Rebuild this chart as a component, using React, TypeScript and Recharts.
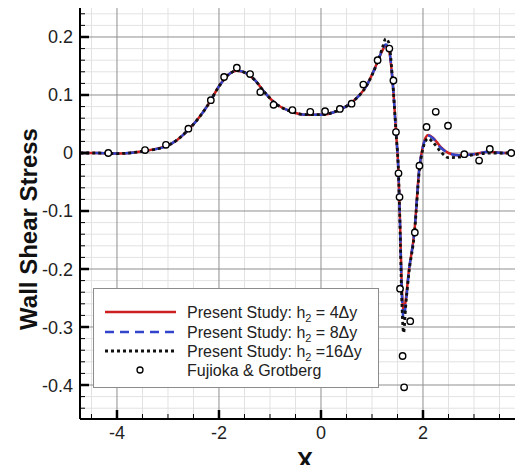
import React from 'react';
import {
  ComposedChart,
  Line,
  Scatter,
  XAxis,
  YAxis,
  ReferenceLine,
} from 'recharts';

const FONT = '"Liberation Sans", Arial, Helvetica, sans-serif';

// x positions of the computed curves
const XS = [
  -4.72, -4.4, -4.0, -3.5, -3.0, -2.6, -2.2, -2.0, -1.8, -1.65, -1.5, -1.3, -1.1, -0.9, -0.6,
  -0.3, 0, 0.3, 0.6, 0.9, 1.1, 1.2, 1.27, 1.33, 1.4, 1.47, 1.52, 1.55, 1.58, 1.62, 1.66, 1.72,
  1.83, 1.93, 2.0, 2.1, 2.2, 2.35, 2.5, 2.7, 3.0, 3.3, 3.6, 4.0,
];

// Present Study: h2 = 4Δy
const RED_Y = [
  0, 0, -0.001, 0.003, 0.013, 0.04, 0.085, 0.115, 0.136, 0.142, 0.139, 0.126, 0.104, 0.086, 0.072,
  0.066, 0.066, 0.072, 0.087, 0.117, 0.155, 0.176, 0.185, 0.178, 0.128, 0.037, -0.035, -0.12, -0.22,
  -0.272, -0.255, -0.205, -0.137, -0.025, 0.012, 0.031, 0.026, 0.01, 0.0, -0.004, -0.002, 0.002, 0.0,
  0.0,
];

// Present Study: h2 = 8Δy
const BLUE_Y = [
  0, 0, -0.001, 0.003, 0.013, 0.04, 0.085, 0.115, 0.136, 0.142, 0.139, 0.126, 0.104, 0.086, 0.072,
  0.066, 0.066, 0.072, 0.087, 0.117, 0.155, 0.177, 0.187, 0.18, 0.128, 0.037, -0.035, -0.125, -0.23,
  -0.285, -0.262, -0.207, -0.137, -0.025, 0.011, 0.03, 0.025, 0.009, 0.0, -0.004, -0.002, 0.002, 0.0,
  0.0,
];

// Present Study: h2 = 16Δy
const BLACK_Y = [
  0, 0, -0.001, 0.003, 0.013, 0.04, 0.085, 0.115, 0.136, 0.142, 0.139, 0.126, 0.104, 0.086, 0.072,
  0.066, 0.066, 0.072, 0.087, 0.117, 0.155, 0.18, 0.197, 0.19, 0.13, 0.037, -0.035, -0.13, -0.24,
  -0.31, -0.265, -0.21, -0.14, -0.03, 0.008, 0.025, 0.018, 0.002, -0.008, -0.007, -0.003, 0.0, 0.0,
  0.0,
];

// Fujioka & Grotberg
const REF_X = [
  -4.17, -3.45, -3.04, -2.6, -2.16, -1.9, -1.65, -1.39, -1.19, -0.93, -0.56, -0.21, 0.08, 0.37, 0.6,
  0.83, 1.11, 1.34, 1.42, 1.47, 1.52, 1.54, 1.55, 1.6, 1.63, 1.75, 1.84, 1.93, 2.07, 2.25, 2.49,
  2.81, 3.1, 3.31, 3.73,
];
const REF_Y = [
  0.0, 0.005, 0.014, 0.042, 0.091, 0.131, 0.147, 0.136, 0.105, 0.083, 0.074, 0.071, 0.072, 0.076,
  0.085, 0.118, 0.16, 0.18, 0.125, 0.036, -0.035, -0.076, -0.234, -0.35, -0.404, -0.29, -0.137,
  -0.022, 0.045, 0.071, 0.047, -0.002, -0.013, 0.007, 0.0,
];

const X_MAJOR = [-4, -2, 0, 2, 4];
const X_MINOR = [-4.5, -3.5, -3, -2.5, -1.5, -1, -0.5, 0.5, 1, 1.5, 2.5, 3, 3.5];
const Y_MAJOR = [-0.4, -0.3, -0.2, -0.1, 0, 0.1, 0.2];
const Y_MINOR = [
  -0.44, -0.42, -0.38, -0.36, -0.34, -0.32, -0.28, -0.26, -0.24, -0.22, -0.18, -0.16, -0.14, -0.12,
  -0.08, -0.06, -0.04, -0.02, 0.02, 0.04, 0.06, 0.08, 0.12, 0.14, 0.16, 0.18, 0.22, 0.24,
];

const X_DOMAIN: [number, number] = [-4.725, 4.0];
const Y_DOMAIN: [number, number] = [-0.4586, 0.2517];

const LEGEND_LABELS = ['4Δy', '8Δy', '16Δy'];

const zip = (xs: number[], ys: number[]) => xs.map((x, i) => ({ x, y: ys[i] }));
const redData = zip(XS, RED_Y);
const blueData = zip(XS, BLUE_Y);
const blackData = zip(XS, BLACK_Y);
const refData = zip(REF_X, REF_Y);

const X_TICKS = [...X_MINOR, ...X_MAJOR];
const Y_TICKS = [...Y_MINOR, ...Y_MAJOR];

const isMajor = (arr: number[], v: number) => arr.some((m) => Math.abs(m - v) < 1e-9);

const BottomTick = (props: any) => {
  const { x, y, payload } = props;
  const major = isMajor(X_MAJOR, payload.value);
  return (
    <g>
      <line x1={x} x2={x} y1={y} y2={y - (major ? 9 : 5)} stroke="#000" strokeWidth={major ? 2.5 : 1} />
      {major && (
        <text x={x} y={y + 20} textAnchor="middle" fontSize={18} fill="#222" fontFamily={FONT}>
          {String(payload.value)}
        </text>
      )}
    </g>
  );
};

const TopTick = (props: any) => {
  const { x, y, payload } = props;
  const major = isMajor(X_MAJOR, payload.value);
  return <line x1={x} x2={x} y1={y} y2={y + (major ? 9 : 5)} stroke="#000" strokeWidth={major ? 2.5 : 1} />;
};

const LeftTick = (props: any) => {
  const { x, y, payload } = props;
  const major = isMajor(Y_MAJOR, payload.value);
  return (
    <g>
      <line x1={x} x2={x + (major ? 9 : 5)} y1={y} y2={y} stroke="#000" strokeWidth={major ? 2.5 : 1} />
      {major && (
        <text x={x - 7} y={y + 6.5} textAnchor="end" fontSize={18} fill="#222" fontFamily={FONT}>
          {String(payload.value)}
        </text>
      )}
    </g>
  );
};

const RightTick = (props: any) => {
  const { x, y, payload } = props;
  const major = isMajor(Y_MAJOR, payload.value);
  return <line x1={x} x2={x - (major ? 9 : 5)} y1={y} y2={y} stroke="#000" strokeWidth={major ? 2.5 : 1} />;
};

const RefDot = (props: any) => {
  const { cx, cy } = props;
  if (cx == null || cy == null) return null;
  return <circle cx={cx} cy={cy} r={3.2} fill="#fff" stroke="#000" strokeWidth={1.4} />;
};

const LegendBox = () => {
  const rows = [
    { stroke: '#cc2020', dash: undefined as string | undefined, w: 2.5 },
    { stroke: '#3344cc', dash: '9 6', w: 2.5 },
    { stroke: '#111', dash: '3 3', w: 2.8 },
  ];
  const rowY = [24, 44, 63, 82];
  return (
    <div
      style={{
        position: 'absolute',
        left: 93,
        top: 288,
        width: 286,
        height: 100,
        background: '#fff',
        border: '1px solid #8c8c8c',
        boxSizing: 'border-box',
      }}
    >
      <svg width={286} height={100} style={{ position: 'absolute', left: -1, top: -1 }}>
        {rows.map((r, i) => (
          <g key={i}>
            <line x1={12} x2={83} y1={rowY[i]} y2={rowY[i]} stroke={r.stroke} strokeWidth={r.w} strokeDasharray={r.dash} />
            <text x={94} y={rowY[i] + 6} fontSize={16} fill="#222" fontFamily={FONT}>
              Present Study: h
              <tspan fontSize={11} dy={4}>2</tspan>
              <tspan dy={-4}>{i === 2 ? ' =' + LEGEND_LABELS[i] : ' = ' + LEGEND_LABELS[i]}</tspan>
            </text>
          </g>
        ))}
        <circle cx={47} cy={rowY[3]} r={3} fill="#fff" stroke="#000" strokeWidth={1.3} />
        <text x={94} y={rowY[3] + 6} fontSize={16} fill="#222" fontFamily={FONT}>
          Fujioka &amp; Grotberg
        </text>
      </svg>
    </div>
  );
};

export default function App() {
  return (
    <div
      style={{
        position: 'relative',
        width: 523,
        height: 473,
        margin: '-8px 0 -8px -8px',
        overflow: 'hidden',
        background: '#fff',
      }}
    >
      <ComposedChart width={530} height={473} margin={{ top: 7, right: 5, bottom: 0, left: 0 }}>
        <XAxis
          xAxisId="top"
          orientation="top"
          type="number"
          dataKey="x"
          domain={X_DOMAIN}
          allowDataOverflow
          ticks={X_TICKS}
          interval={0}
          height={0}
          tickSize={0}
          tickMargin={0}
          tickLine={false}
          tick={<TopTick />}
          axisLine={{ stroke: '#000', strokeWidth: 2 }}
        />
        <XAxis
          type="number"
          dataKey="x"
          domain={X_DOMAIN}
          allowDataOverflow
          ticks={X_TICKS}
          interval={0}
          height={54}
          tickSize={0}
          tickMargin={0}
          tickLine={false}
          tick={<BottomTick />}
          axisLine={{ stroke: '#000', strokeWidth: 2 }}
        />
        <YAxis
          type="number"
          domain={Y_DOMAIN}
          allowDataOverflow
          ticks={Y_TICKS}
          interval={0}
          width={80}
          tickSize={0}
          tickMargin={0}
          tickLine={false}
          tick={<LeftTick />}
          axisLine={{ stroke: '#000', strokeWidth: 2 }}
        />
        <YAxis
          yAxisId="right"
          orientation="right"
          type="number"
          domain={Y_DOMAIN}
          allowDataOverflow
          ticks={Y_TICKS}
          interval={0}
          width={0}
          tickSize={0}
          tickMargin={0}
          tickLine={false}
          tick={<RightTick />}
          axisLine={{ stroke: '#000', strokeWidth: 2 }}
        />
        {X_MINOR.map((v) => (
          <ReferenceLine key={'xm' + v} x={v} stroke="#e2e2e2" strokeWidth={1} />
        ))}
        {Y_MINOR.map((v) => (
          <ReferenceLine key={'ym' + v} y={v} stroke="#e2e2e2" strokeWidth={1} />
        ))}
        {X_MAJOR.filter((v) => v < 4).map((v) => (
          <ReferenceLine key={'xM' + v} x={v} stroke="#8f8f8f" strokeWidth={1} />
        ))}
        {Y_MAJOR.map((v) => (
          <ReferenceLine key={'yM' + v} y={v} stroke="#8f8f8f" strokeWidth={1} />
        ))}
        <Line data={redData} dataKey="y" type="monotone" stroke="#cc2020" strokeWidth={2.5} dot={false} isAnimationActive={false} />
        <Line data={blueData} dataKey="y" type="monotone" stroke="#3344cc" strokeWidth={2.5} strokeDasharray="9 6" dot={false} isAnimationActive={false} />
        <Line data={blackData} dataKey="y" type="monotone" stroke="#111" strokeWidth={2.8} strokeDasharray="3 3" dot={false} isAnimationActive={false} />
        <Scatter data={refData} dataKey="y" shape={<RefDot />} isAnimationActive={false} />
      </ComposedChart>
      <svg width={523} height={473} style={{ position: 'absolute', left: 0, top: 0, pointerEvents: 'none' }}>
        <text x={37} y={229} transform="rotate(-90 37 229)" textAnchor="middle" fontSize={24} fontWeight="bold" fill="#111" fontFamily={FONT}>
          Wall Shear Stress
        </text>
        <text x={305} y={469} textAnchor="middle" fontSize={24} fontWeight="bold" fill="#111" fontFamily={FONT}>
          X
        </text>
      </svg>
      <LegendBox />
    </div>
  );
}
